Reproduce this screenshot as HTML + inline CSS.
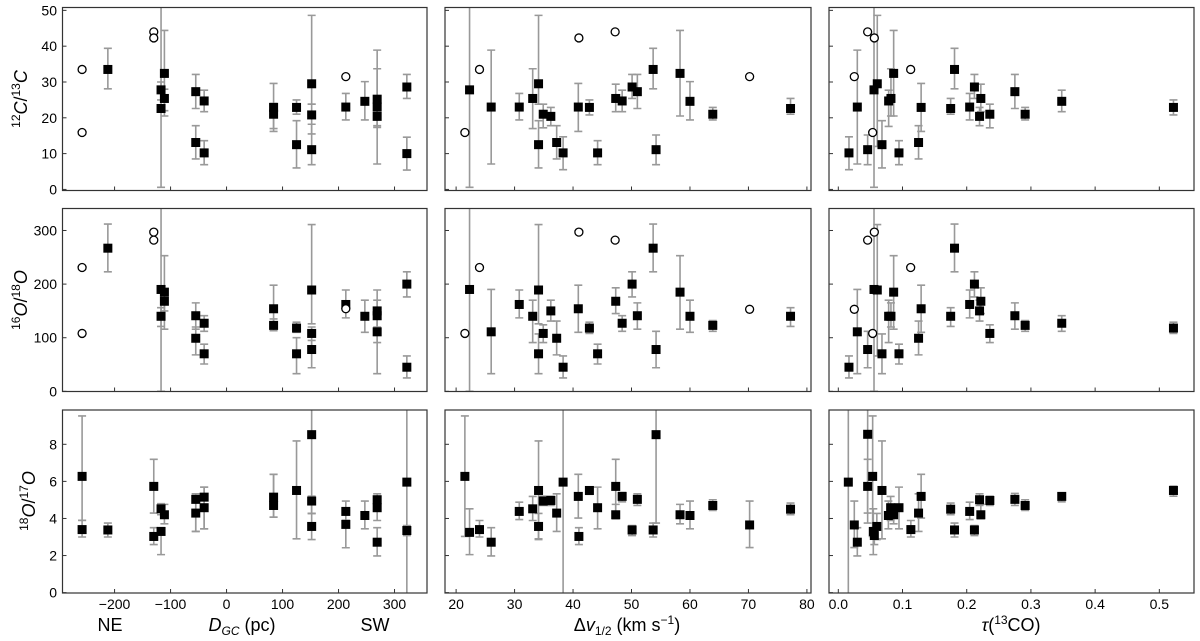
<!DOCTYPE html>
<html><head><meta charset="utf-8"><style>
html,body{margin:0;padding:0;background:#fff;}
svg{display:block;font-family:"Liberation Sans","DejaVu Sans",sans-serif;}
</style></head><body>
<svg id="fig" width="1200" height="641" viewBox="0 0 1200 641"></svg>
<script>
// ---- data ----
const d11x=[-212,-117,-117,-111,-111,-55,-40,-55,-40,84,84,125,125,152,152,152,213,247,269,269,269,322,322];
const d11y=[33.5,27.8,22.6,32.4,25.4,27.3,24.7,13.1,10.2,22.9,21,22.9,12.5,29.5,20.8,11.1,23,24.6,25.2,23,20.4,28.6,10];
const d11lo=[28.1,25,0.6,20.5,22,22.6,21.7,8.5,6.9,16.2,17,21,6,23.8,15.5,6.9,19.4,19.4,7.1,17.8,17.3,25.4,5.4];
const d11hi=[39.4,30,55,44.4,28,32.1,27.7,17.8,13.6,29.6,24,25,19.2,48.6,23.8,18.2,26.8,30.1,38.9,33.7,23,32.1,14.6];
const o11x=[-258,-258,-130,-130,213];
const o11y=[33.5,15.9,44,42.3,31.5];

const d21x=[-212,-117,-117,-111,-111,-55,-55,-40,-40,84,84,125,125,152,152,152,213,247,269,269,269,322,322];
const d21y=[267,190,140,185,168,141,99,127,70,154,123,118,70,189,108,78,162,140,150,141,111,200,45];
const d21lo=[223,0,121,116,150,116,68,112,51,129,113,110,33,126,72,44,137,110,91,120,33,176,25];
const d21hi=[312,345,156,253,185,165,120,141,88,198,135,129,100,311,120,95,189,170,189,170,150,223,66];
const o21x=[-258,-258,-130,-130,213];
const o21y=[231,108,297,282,154];

const d31x=[-258,-258,-212,-130,-130,-117,-117,-111,-55,-55,-40,-40,84,84,125,152,152,152,213,213,247,269,269,269,322,322];
const d31y=[6.27,3.4,3.38,5.73,3.03,4.52,3.3,4.2,5.03,4.29,5.15,4.58,5.15,4.7,5.51,8.52,4.94,3.57,4.38,3.68,4.16,5.01,4.58,2.72,5.96,3.35];
const d31lo=[3.9,3.0,3.0,4.29,2.59,4.2,2.05,3.71,3.3,3.3,3.44,3.44,4.07,4.07,2.9,4.27,4.27,2.86,3.9,2.42,3.44,4.6,3.89,1.98,-1,3.08];
const d31hi=[9.53,3.9,3.75,7.19,3.5,4.8,3.5,4.76,5.33,5.33,5.69,5.69,6.38,6.38,8.18,10,5.2,4.27,4.94,3.9,4.94,5.33,5.2,3.5,10,3.62];
const o31x=[];
const o31y=[];

const d12x=[22.3,26,30.8,33.1,34.1,34.1,34.9,36.2,37.2,38.3,40.9,42.8,44.2,47.3,48.4,50.1,51,53.7,54.2,58.3,60,63.9,77.2];
const d12y=[27.8,23,23,25.4,29.5,12.5,21,20.4,13.1,10.2,23,22.9,10.2,25.4,24.7,28.6,27.3,33.5,11.1,32.4,24.6,21,22.6];
const d12lo=[0.6,7.1,19.4,17,23.8,6,17.2,17.8,8.5,5.5,16.2,20.8,6.9,21.7,21.7,25.4,22.6,28.1,6.9,20.5,19.4,19.4,21];
const d12hi=[55,38.9,26.8,33.7,48.6,19.2,23.8,22.9,17.8,14.7,29.6,25,13.6,29.4,27.7,32.1,32.1,39.4,15.2,44.4,30.1,22.9,25.4];
const o12x=[21.5,24,41,47.2,70.2];
const o12y=[15.9,33.5,42.3,44,31.5];

const d22x=[22.3,26,30.8,33.1,34.1,34.1,34.9,36.2,37.2,38.3,40.9,42.8,44.2,47.3,48.4,50.1,51,53.7,54.2,58.3,60,63.9,77.2];
const d22y=[190,111,162,140,189,70,108,150,99,45,154,118,70,168,127,200,141,267,78,185,140,123,140];
const d22lo=[0,33,137,91,126,33,91,131,68,25,110,108,51,145,112,176,116,223,44,116,110,112,121];
const d22hi=[345,190,189,170,311,107,124,170,131,66,198,129,88,193,141,223,165,312,112,253,170,132,156];
const o22x=[21.5,24,41,47.2,70.2];
const o22y=[108,231,297,282,153];

const d32x=[21.5,22.3,24,26,30.8,33.1,34.1,34.1,34.9,36.2,37.2,38.3,40.9,41,42.8,44.2,47.3,47.3,48.4,50.1,51,53.7,54.2,58.3,60,63.9,70.2,77.2];
const d32y=[6.27,3.25,3.4,2.72,4.38,4.52,5.51,3.57,4.94,4.97,4.29,5.96,5.19,3.03,5.51,4.58,5.73,4.2,5.19,3.38,5.03,3.38,8.52,4.2,4.16,4.7,3.65,4.5];
const d32lo=[3.03,2.05,3.0,1.98,3.94,3.89,2.9,2.86,4.7,4.7,3.3,-1,4.02,2.59,5.3,3.44,4.29,3.98,4.9,3.08,4.7,3.0,3.75,3.71,3.44,4.43,2.43,4.2];
const d32hi=[9.53,4.52,3.89,3.5,4.88,5.19,8.18,4.27,5.2,5.2,5.33,10,6.38,3.5,5.7,5.69,7.19,4.76,5.4,3.62,5.33,3.75,10,4.76,4.94,5.01,4.94,4.83];
const o32x=[];
const o32y=[];

const d13x=[0.0166,0.0296,0.0457,0.0556,0.0607,0.068,0.0784,0.082,0.0862,0.0945,0.125,0.129,0.175,0.181,0.2046,0.212,0.22,0.222,0.236,0.275,0.291,0.348,0.522];
const d13y=[10.2,23,11.1,27.8,29.5,12.5,24.7,25.4,32.4,10.2,13.1,22.9,22.6,33.5,23,28.6,20.4,25.4,21,27.3,21,24.6,22.9];
const d13lo=[5.5,7.1,6.9,0.6,12,6,17.6,20.5,20.5,6.9,8.5,16.2,21,28.1,19.4,25.4,17.8,21.7,17.2,22.6,19.4,21.7,20.8];
const d13hi=[14.7,38.9,15.2,55,48.6,19.2,27.7,33.7,44.4,13.6,17.8,29.6,25.4,39.4,26.8,32.1,22.9,29.4,23.8,32.1,22.9,27.7,25];
const o13x=[0.0249,0.0457,0.0535,0.0561,0.1127];
const o13y=[31.5,44,15.9,42.3,33.5];

const d23x=[0.0166,0.0296,0.0457,0.0556,0.0607,0.068,0.0784,0.082,0.0862,0.0945,0.125,0.129,0.175,0.181,0.2046,0.212,0.22,0.222,0.236,0.275,0.291,0.348,0.522];
const d23y=[45,111,78,190,189,70,140,140,185,70,99,154,140,267,162,200,150,168,108,141,123,127,118];
const d23lo=[25,33,44,0,66,33,91,120,116,51,68,110,121,223,137,176,131,145,91,116,112,112,108];
const d23hi=[66,190,112,345,311,107,170,165,253,88,131,198,156,312,189,223,170,193,124,165,132,141,129];
const o23x=[0.0249,0.0457,0.0535,0.0561,0.1127];
const o23y=[153,282,108,297,231];

const d33x=[0.0156,0.0249,0.0296,0.0457,0.0457,0.0535,0.0545,0.0561,0.06,0.068,0.078,0.0815,0.0862,0.0945,0.113,0.125,0.129,0.175,0.181,0.2046,0.212,0.22,0.222,0.236,0.275,0.291,0.348,0.522];
const d33y=[5.96,3.65,2.72,8.54,5.73,6.27,3.3,3.08,3.57,5.51,4.16,4.58,4.2,4.58,3.4,4.29,5.19,4.5,3.38,4.38,3.38,5.01,4.2,4.97,5.03,4.7,5.19,5.51];
const d33lo=[-1,2.43,1.98,3.75,4.29,3.03,2.05,2.59,2.86,2.9,3.44,3.89,3.71,3.44,3.0,3.3,4.02,4.2,3.0,3.94,3.08,4.7,3.98,4.7,4.7,4.43,4.9,5.2];
const d33hi=[10,4.94,3.5,10,7.19,9.53,4.52,3.5,4.27,8.18,4.94,5.19,4.76,5.69,3.89,5.33,6.38,4.83,3.75,4.88,3.62,5.33,4.76,5.2,5.35,5.01,5.36,5.74];
const o33x=[];
const o33y=[];

const xTicks1=[-200,-100,0,100,200,300];
const xTickLabels1=["\u2212200","\u2212100","0","100","200","300"];
const xTicks2=[20,30,40,50,60,70,80];
const xTickLabels2=["20","30","40","50","60","70","80"];
const xTicks3=[0,0.1,0.2,0.3,0.4,0.5];
const xTickLabels3=["0.0","0.1","0.2","0.3","0.4","0.5"];
const yTicks1=[0,10,20,30,40,50];
const yTicks2=[0,100,200,300];
const yTicks3=[0,2,4,6,8];

// ---- layout ----
const NS="http://www.w3.org/2000/svg";
const svg=document.getElementById('fig');
const cols=[{x0:62.5,x1:427,d:[-293,358],t:xTicks1,tl:xTickLabels1},
            {x0:445,x1:811,d:[18.1,80.7],t:xTicks2,tl:xTickLabels2},
            {x0:829,x1:1194,d:[-0.0145,0.554],t:xTicks3,tl:xTickLabels3}];
const rows=[{y0:7.5,y1:190.5,d:[-0.3,50.8],t:yTicks1},
            {y0:208.5,y1:391.5,d:[-0.3,341],t:yTicks2},
            {y0:410,y1:593,d:[-0.02,9.85],t:yTicks3}];
const data=[[[d11x,d11y,d11lo,d11hi,o11x,o11y],[d12x,d12y,d12lo,d12hi,o12x,o12y],[d13x,d13y,d13lo,d13hi,o13x,o13y]],
            [[d21x,d21y,d21lo,d21hi,o21x,o21y],[d22x,d22y,d22lo,d22hi,o22x,o22y],[d23x,d23y,d23lo,d23hi,o23x,o23y]],
            [[d31x,d31y,d31lo,d31hi,o31x,o31y],[d32x,d32y,d32lo,d32hi,o32x,o32y],[d33x,d33y,d33lo,d33hi,o33x,o33y]]];
function mk(tag,attrs,parent){const e=document.createElementNS(NS,tag);for(const k in attrs)e.setAttribute(k,attrs[k]);(parent||svg).appendChild(e);return e;}
const defs=mk('defs',{});
for(let r=0;r<3;r++){for(let c=0;c<3;c++){
  const C=cols[c],R=rows[r];
  const sx=v=>C.x0+(v-C.d[0])/(C.d[1]-C.d[0])*(C.x1-C.x0);
  const sy=v=>R.y1-(v-R.d[0])/(R.d[1]-R.d[0])*(R.y1-R.y0);
  const cp=mk('clipPath',{id:'cp'+r+c},defs);
  mk('rect',{x:C.x0,y:R.y0,width:C.x1-C.x0,height:R.y1-R.y0},cp);
  const g=mk('g',{'clip-path':'url(#cp'+r+c+')'});
  
  
  const [xs,ys,lo,hi,ox,oy]=data[r][c];
  for(let i=0;i<xs.length;i++){
    const X=sx(xs[i]);
    const eb=mk('path',{d:`M${X},${sy(lo[i])}V${sy(hi[i])}M${X-4},${sy(lo[i])}H${X+4}M${X-4},${sy(hi[i])}H${X+4}`,stroke:'#999',fill:'none','stroke-width':1.6},g);
    
    
  }
  for(let i=0;i<xs.length;i++){
    const p=mk('rect',{x:sx(xs[i])-4.5,y:sy(ys[i])-4.5,width:9,height:9,fill:'#000'},g);
    
    
  }
  for(let i=0;i<ox.length;i++){
    const o=mk('circle',{cx:sx(ox[i]),cy:sy(oy[i]),r:4,fill:'#fff',stroke:'#000','stroke-width':1.3},g);
    
    
  }
  const fr=mk('rect',{x:C.x0,y:R.y0,width:C.x1-C.x0,height:R.y1-R.y0,fill:'none',stroke:'#333','stroke-width':1.2});
  
  
  C.t.forEach((t,i)=>{const X=sx(t);mk('line',{x1:X,x2:X,y1:R.y1,y2:R.y1-4,stroke:'#333','stroke-width':1});
    if(r===2){const tx=mk('text',{x:X,y:609,'font-size':14,'text-anchor':'middle',fill:'#000'});tx.textContent=C.tl[i];
      
      }});
  R.t.forEach(t=>{const Y=sy(t);mk('line',{x1:C.x0,x2:C.x0+4,y1:Y,y2:Y,stroke:'#333','stroke-width':1});
    if(c===0){const tx=mk('text',{x:57,y:Y+5,'font-size':14,'text-anchor':'end',fill:'#000'});tx.textContent=String(t);
      
      }});
}}
</script>
<svg width="1200" height="641" style="position:absolute;left:0;top:0;font-family:'Liberation Sans','DejaVu Sans',sans-serif">
<text x="110" y="631" font-size="18" text-anchor="middle">NE</text>
<text x="242" y="631" font-size="18" text-anchor="middle"><tspan font-style="italic">D</tspan><tspan font-style="italic" font-size="12" dy="4">GC</tspan><tspan dy="-4"> (pc)</tspan></text>
<text x="375" y="631" font-size="18" text-anchor="middle">SW</text>
<text x="627" y="631" font-size="18" text-anchor="middle">Δ<tspan font-style="italic">v</tspan><tspan font-size="12" dy="4">1/2</tspan><tspan dy="-4"> (km s</tspan><tspan font-size="12" dy="-7">−1</tspan><tspan dy="7">)</tspan></text>
<text x="1011" y="631" font-size="18" text-anchor="middle"><tspan font-style="italic">τ</tspan>(<tspan font-size="12" dy="-7">13</tspan><tspan dy="7">CO)</tspan></text>
<text transform="translate(27,99) rotate(-90)" font-size="18" text-anchor="middle"><tspan font-size="12" dy="-7">12</tspan><tspan font-style="italic" dy="7">C</tspan>/<tspan font-size="12" dy="-7">13</tspan><tspan font-style="italic" dy="7">C</tspan></text>
<text transform="translate(27,300) rotate(-90)" font-size="18" text-anchor="middle"><tspan font-size="12" dy="-7">16</tspan><tspan font-style="italic" dy="7">O</tspan>/<tspan font-size="12" dy="-7">18</tspan><tspan font-style="italic" dy="7">O</tspan></text>
<text transform="translate(35,501) rotate(-90)" font-size="18" text-anchor="middle"><tspan font-size="12" dy="-7">18</tspan><tspan font-style="italic" dy="7">O</tspan>/<tspan font-size="12" dy="-7">17</tspan><tspan font-style="italic" dy="7">O</tspan></text>
</svg>
</body></html>
